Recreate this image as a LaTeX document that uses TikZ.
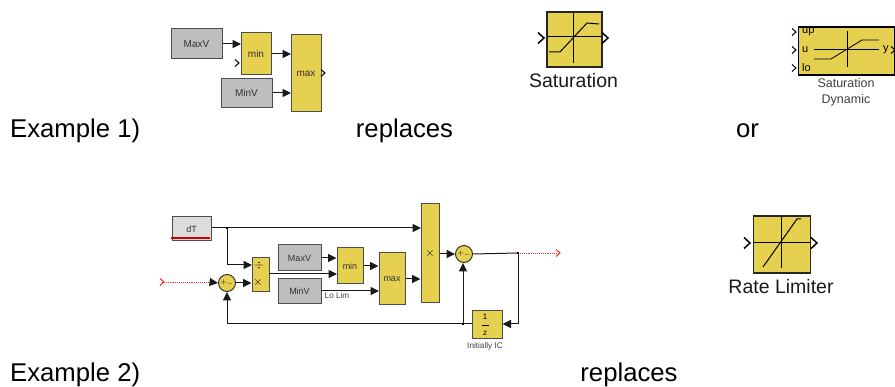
\documentclass[tikz,border=0pt]{standalone}
\usepackage{fontspec}
\setmainfont{Liberation Sans}
\usetikzlibrary{arrows.meta}
\definecolor{BlockYellow}{RGB}{230,208,80}
\definecolor{BlockGray}{RGB}{190,190,190}
\definecolor{LightGray}{RGB}{220,220,220}
\definecolor{SigRed}{RGB}{240,50,50}
\definecolor{DarkRed}{RGB}{205,0,0}
\newcommand\Chevron[3][black]{\draw[color=#1,line width=1pt] (#2-2,#3-3.5) -- (#2+2,#3) -- (#2-2,#3+3.5);}
\newcommand\BigChevron[2]{\draw[line width=1.5pt] (#1-3,#2-5.5) -- (#1+3,#2) -- (#1-3,#2+5.5);}
\newcommand\JoinDot[1]{\fill[black] (#1) +(-1.3,-1.3) rectangle +(1.3,1.3);}
\tikzset{
    x=1pt,y=-1pt,
    yblock/.style={draw=black!70,line width=1pt,fill=BlockYellow,text=black!80,font=\fontsize{10}{11}\selectfont,inner sep=0pt},
    gblock/.style={draw=black!70,line width=1pt,fill=BlockGray,text=black!80,font=\fontsize{10}{11}\selectfont,inner sep=0pt},
    satblock/.style={draw=black!85,line width=1.3pt,fill=BlockYellow,inner sep=0pt},
    sumblock/.style={circle,draw=black!85,line width=0.9pt,fill=BlockYellow,minimum size=17pt,inner sep=0pt,font=\fontsize{8}{8}\selectfont},
    wire/.style={-{Triangle[length=8.5pt,width=8pt]},line width=1pt,color=black!90},
    plainwire/.style={line width=1pt,color=black!90},
    redwire/.style={densely dotted,color=SigRed,line width=0.9pt},
    plaintext/.style={font=\fontsize{25.7}{28}\selectfont,inner sep=0pt,anchor=base},
    captext/.style={font=\fontsize{19.5}{21}\selectfont,inner sep=0pt,text=black!90},
    smalltext/.style={font=\fontsize{8.2}{9}\selectfont,inner sep=0pt,text=black!75,align=center},
    smallblock/.style={font=\fontsize{9}{10}\selectfont},
    portlabel/.style={font=\fontsize{11}{11}\selectfont,inner sep=0pt,anchor=west},
    opsymbol/.style={inner sep=0pt,text=black,font=\fontsize{12}{12}\selectfont},
}
\begin{document}
\begin{tikzpicture}
    \useasboundingbox (0,0) rectangle (895,387);
    % example 1
    \node[plaintext,anchor=base west] (ExOne) at (10,138) {Example 1)};
    \node[plaintext] (ReplOne) at (404.5,138) {replaces};
    \node[plaintext] (OrText) at (747.5,138) {or};
    \node[gblock,minimum width=51pt,minimum height=30pt] (MaxV) at (196.5,44) {MaxV};
    \node[yblock,minimum width=30pt,minimum height=42pt] (Min) at (256,54) {min};
    \node[yblock,minimum width=30pt,minimum height=77pt] (Max) at (306,73.5) {max};
    \node[gblock,minimum width=51pt,minimum height=29pt] (MinV) at (246.5,93) {MinV};
    \coordinate (MinIn) at (241,44);
    \coordinate (MaxInA) at (291,54);
    \coordinate (MaxInB) at (291,93);
    \draw[wire] (MaxV.east) -- (MinIn);
    \draw[wire] (Min.east) -- (MaxInA);
    \draw[wire] (MinV.east) -- (MaxInB);
    \Chevron{237}{63}
    \Chevron{323}{73}
    % saturation block
    \node[satblock,minimum width=55pt,minimum height=55pt] (Sat) at (574.5,39.5) {};
    \draw[line width=1pt] (548,37) -- (601,37);
    \draw[line width=1pt] (573,13) -- (573,63);
    \draw[line width=1pt] (549,52) -- (560,52) -- (587,23) -- (599,24);
    \BigChevron{541}{38}
    \BigChevron{605}{38}
    \node[captext] (SatText) at (573.5,81) {Saturation};
    % dynamic saturation block
    \node[satblock,draw=black,anchor=west,minimum width=96pt,minimum height=48pt] (Dyn) at (798,51) {};
    \node[portlabel] (DynUp) at (802,32) {up};
    \node[portlabel] (DynU) at (802,50) {u};
    \node[portlabel] (DynLo) at (802,68) {lo};
    \node[portlabel] (DynY) at (883,50) {y};
    \draw[line width=0.8pt] (814,49) -- (879,49);
    \draw[line width=0.8pt] (847,31) -- (847,67);
    \draw[line width=0.8pt] (814,59) -- (831,59) -- (862,40) -- (879,40);
    \Chevron{794}{32}
    \Chevron{794}{50}
    \Chevron{794}{68}
    \Chevron{893}{50}
    \node[smalltext,font=\fontsize{12.5}{16}\selectfont] (DynText) at (846,92) {Saturation\\Dynamic};
    % example 2
    \node[plaintext,anchor=base west] (ExTwo) at (10,382) {Example 2)};
    \node[plaintext] (ReplTwo) at (629,382) {replaces};
    \node[gblock,fill=LightGray,smallblock,minimum width=39pt,minimum height=24pt] (dT) at (191.5,229) {dT};
    \draw[color=DarkRed,line width=1.3pt] (171,238) -- (210,238);
    \node[yblock,minimum width=17pt,minimum height=34pt] (Div) at (260.5,275) {};
    \node[opsymbol] (DivTop) at (259,266) {$\div$};
    \node[opsymbol] (DivBot) at (258,283) {$\times$};
    \node[gblock,smallblock,minimum width=43pt,minimum height=26pt] (MaxVb) at (299.5,258) {MaxV};
    \node[gblock,smallblock,minimum width=43pt,minimum height=25pt] (MinVb) at (299.5,291.5) {MinV};
    \node[yblock,smallblock,minimum width=26pt,minimum height=36pt] (Minb) at (350,266) {min};
    \node[yblock,smallblock,minimum width=26pt,minimum height=52pt] (Maxb) at (392,279) {max};
    \node[yblock,opsymbol,minimum width=18pt,minimum height=99pt] (Mul) at (430,253.5) {$\times$};
    \node[sumblock] (SumA) at (227,283) {$+_{-}$};
    \node[sumblock] (SumB) at (464,254) {$+_{-}$};
    \node[yblock,minimum width=30pt,minimum height=28pt] (Delay) at (487,325) {};
    \node[inner sep=0pt,font=\fontsize{8}{8}\selectfont] (DelayNum) at (485,317) {1};
    \node[inner sep=0pt,font=\fontsize{8}{8}\selectfont] (DelayDen) at (485,333) {z};
    \draw[line width=0.6pt] (482,325) -- (489,325);
    \node[smalltext] (LoLim) at (337,296) {Lo Lim};
    \node[smalltext] (InitIC) at (485,346) {Initially IC};
    \coordinate (RedIn) at (162,282);
    \coordinate (RedEnd) at (210,282);
    \coordinate (RedOut) at (557,253);
    \coordinate (Branch) at (518,253);
    \coordinate (dTJoin) at (227,228);
    \coordinate (FbJoin) at (463,324);
    \coordinate (MulIn) at (421,228);
    \coordinate (DivInA) at (252,265);
    \coordinate (DivOut) at (269,274);
    \coordinate (MinInC) at (337,274);
    \coordinate (MinVbOut) at (321,291);
    \coordinate (MaxbInC) at (379,291);
    \coordinate (SumAIn) at (218,283);
    \draw[redwire] (RedIn) -- (RedEnd);
    \draw[wire] (RedEnd) -- (SumAIn);
    \draw[wire] (SumA.east) -- (Div.west |- SumA);
    \draw[plainwire] (dT.east |- dTJoin) -- (dTJoin);
    \draw[wire] (dTJoin) -- (MulIn);
    \draw[wire] (dTJoin) |- (DivInA);
    \draw[wire] (MaxVb.east) -- (Minb.west |- MaxVb);
    \draw[wire] (DivOut) -- (MinInC);
    \draw[wire] (Minb.east) -- (Maxb.west |- Minb);
    \draw[wire] (MinVbOut) -- (MaxbInC);
    \draw[wire] (Maxb.east) -- (Mul.west |- Maxb);
    \draw[wire] (Mul.east |- SumB) -- (SumB.west);
    \draw[plainwire] (SumB.east) -- (Branch);
    \draw[redwire] (Branch) -- (RedOut);
    \draw[wire] (Branch) |- (Delay.east |- FbJoin);
    \draw[plainwire] (Delay.west |- FbJoin) -- (FbJoin);
    \draw[wire] (FbJoin) -- (SumB.south -| FbJoin);
    \draw[wire] (FbJoin) -| (SumA.south);
    \JoinDot{dTJoin}
    \JoinDot{Branch}
    \JoinDot{FbJoin}
    \Chevron[SigRed]{162}{282}
    \Chevron[SigRed]{558}{253}
    % rate limiter block
    \node[satblock,minimum width=57pt,minimum height=57pt] (Rate) at (782,244.5) {};
    \draw[line width=1pt] (754,243) -- (810,243);
    \draw[line width=1pt] (781,217) -- (781,268);
    \draw[line width=1pt] (763,267) -- (797,219) -- (801,219);
    \BigChevron{747}{243}
    \BigChevron{814}{243}
    \node[captext] (RateText) at (781,287) {Rate Limiter};
\end{tikzpicture}
\end{document}
